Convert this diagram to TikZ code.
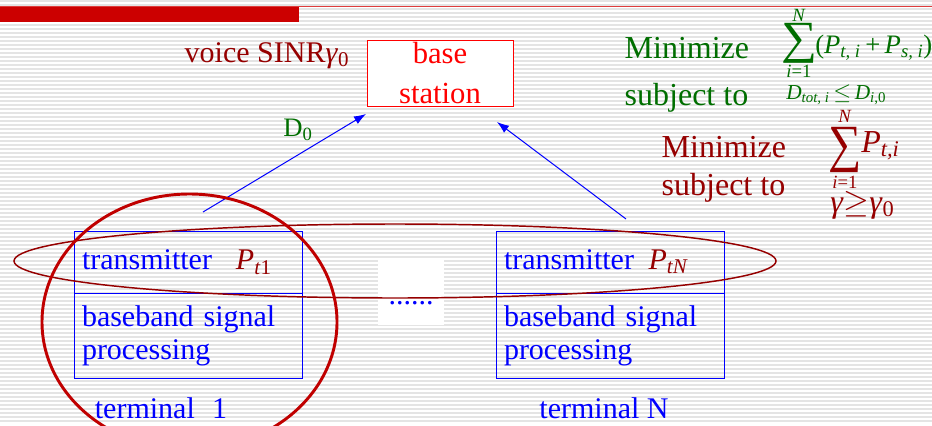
\documentclass[tikz,border=0pt]{standalone}
\usepackage{amsmath}
\usepackage{graphicx}
\usepackage{fontspec}
\setmainfont{Liberation Serif}
\usepackage{tikz}
\usetikzlibrary{
    arrows.meta,
    positioning
}
\definecolor{barred}{RGB}{204,0,0}
\definecolor{linered}{RGB}{222,60,60}
\definecolor{stationred}{RGB}{255,0,0}
\definecolor{deepred}{RGB}{150,0,0}
\definecolor{ringred}{RGB}{192,0,0}
\definecolor{slidegreen}{RGB}{0,110,0}
\definecolor{unitblue}{RGB}{0,0,255}
\definecolor{stripegray}{RGB}{228,228,228}
\newcommand{\iv}[1]{\textit{#1}}
% sum sign stretched to a given box
\newcommand{\bigsum}[2]{\resizebox*{#1}{#2}{∑}}
\tikzset{
    % Colors
    voice color/.style={deepred},
    goal color/.style={slidegreen},
    unit color/.style={unitblue},
    big text/.style={font=\fontsize{24}{29}\selectfont},
    limit/.style={inner sep=0pt,font=\fontsize{14}{17}\selectfont},
    %
    % Background
    stripe/.style={stripegray,line width=0.9pt},
    %
    % Boxes
    station/.style={draw=stationred,fill=white,text=stationred,line width=0.75pt,align=center,
        minimum width=109.5pt,minimum height=49.5pt,inner sep=0pt,font=\fontsize{23}{30}\selectfont},
    unitbox/.style={draw=unitblue,text=unitblue,line width=0.75pt,text width=159pt,
        inner xsep=6pt,inner ysep=0pt,outer sep=0pt,align=left},
    txbox/.style={unitbox,minimum height=46.5pt},
    bbbox/.style={unitbox,minimum height=63.75pt,font=\fontsize{22.5}{24.75}\selectfont},
    gapbox/.style={fill=white,text=unitblue,minimum width=49.5pt,minimum height=50pt,
        text height=18.8pt,text depth=0pt,inner sep=0pt},
    %
    % Rings
    ring/.style={ringred,line width=2.2pt},
    thin ring/.style={deepred,line width=1.1pt},
    %
    % Arrows
    arrow tip/.tip={Latex[length=9pt,width=6.5pt]},
    arr/.style={-{arrow tip},unitblue,line width=0.75pt}
}
\tikzstyle{every node}=[font=\fontsize{22.5}{27}\selectfont]
\begin{document}
\begin{tikzpicture}[x=0.75pt,y=-0.75pt]
    \useasboundingbox (0,0) rectangle (932,425);
    % lined slide background
    \fill[white] (0,0) rectangle (932,425);
    \foreach \y in {1,5,...,421}{
        \draw[stripe] (0,\y) -- (932,\y);
    }
    \fill[barred] (0,7) rectangle (299,22);
    \draw[linered,line width=1.1pt] (0,6.5) -- (932,6.5);
    %
    \node[station] (bs) at (440,73) {base\\station};
    \node[txbox,anchor=north west] (tx1) at (74,231) {transmitter\hspace{18pt}\textcolor{deepred}{\iv{P}\textsubscript{\iv{t}1}}};
    \node[bbbox,below=0pt of tx1] (bb1) {baseband signal\\processing};
    \node[txbox,anchor=north west] (txN) at (496,231) {transmitter\hspace{11pt}\textcolor{deepred}{\iv{P}\textsubscript{\iv{tN}}}};
    \node[bbbox,below=0pt of txN] (bbN) {baseband signal\\processing};
    \node[unit color,anchor=base] (term1) at (161,418) {terminal\hspace{13pt}1};
    \node[unit color,anchor=base] (termN) at (604,418) {terminal N};
    \node[gapbox] (gap) at (411,291.5) {......};
    %
    \node[voice color,anchor=base west] (sinr) at (180,62) {voice SINR\iv{γ}\textsubscript{0}};
    \node[goal color,font=\fontsize{20}{24}\selectfont] (delay) at (298,130) {D\textsubscript{0}};
    \coordinate (from1) at (203,212);
    \coordinate (to1) at (366,114);
    \coordinate (fromN) at (626,219);
    \coordinate (toN) at (497,122);
    \draw[arr] (from1) -- (to1);
    \draw[arr] (fromN) -- (toN);
    %
    % power and delay problem
    \node[goal color,big text,anchor=base west] (min1) at (620,58) {Minimize};
    \node[goal color,big text,anchor=base west] (subj1) at (620,105) {subject to};
    \node[goal color,inner sep=0pt] (sum1) at (799,43) {\bigsum{27pt}{30pt}};
    \node[goal color,limit,above=0.5pt of sum1] (top1) {\iv{N}};
    \node[goal color,limit,below=1pt of sum1] (bot1) {\iv{i}=1};
    \node[goal color,anchor=base west,inner sep=0pt,font=\fontsize{20}{24}\selectfont] (obj1) at (815,53)
        {(\iv{P}\textsubscript{\iv{t, i}}\,+\,\iv{P}\textsubscript{\iv{s, i}})};
    \node[goal color,anchor=base west,inner sep=0pt,font=\fontsize{16}{19}\selectfont] (cons1) at (786,99)
        {\iv{D}\textsubscript{\iv{tot, i}}\,$\leq$\,\iv{D}\textsubscript{\iv{i},0}};
    % power problem
    \node[voice color,big text,anchor=base west] (min2) at (657,157) {Minimize};
    \node[voice color,big text,anchor=base west] (subj2) at (657,195) {subject to};
    \node[voice color,inner sep=0pt] (sum2) at (845,150) {\bigsum{25pt}{34pt}};
    \node[voice color,limit,above=3pt of sum2] (top2) {\iv{N}};
    \node[voice color,limit,below=2pt of sum2] (bot2) {\iv{i}=1};
    \node[voice color,anchor=base west,inner sep=0pt,font=\fontsize{24}{29}\selectfont] (obj2) at (861,152)
        {\iv{P}\textsubscript{\iv{t,i}}};
    \node[voice color,big text,anchor=base west,inner sep=0pt] (cons2) at (830,212) {\iv{γ}$\geq$\iv{γ}\textsubscript{0}};
    %
    \draw[thin ring] (395,261) ellipse [x radius=381,y radius=37];
    \draw[ring] (189.5,322) ellipse [x radius=147.5,y radius=128];
\end{tikzpicture}
\end{document}
